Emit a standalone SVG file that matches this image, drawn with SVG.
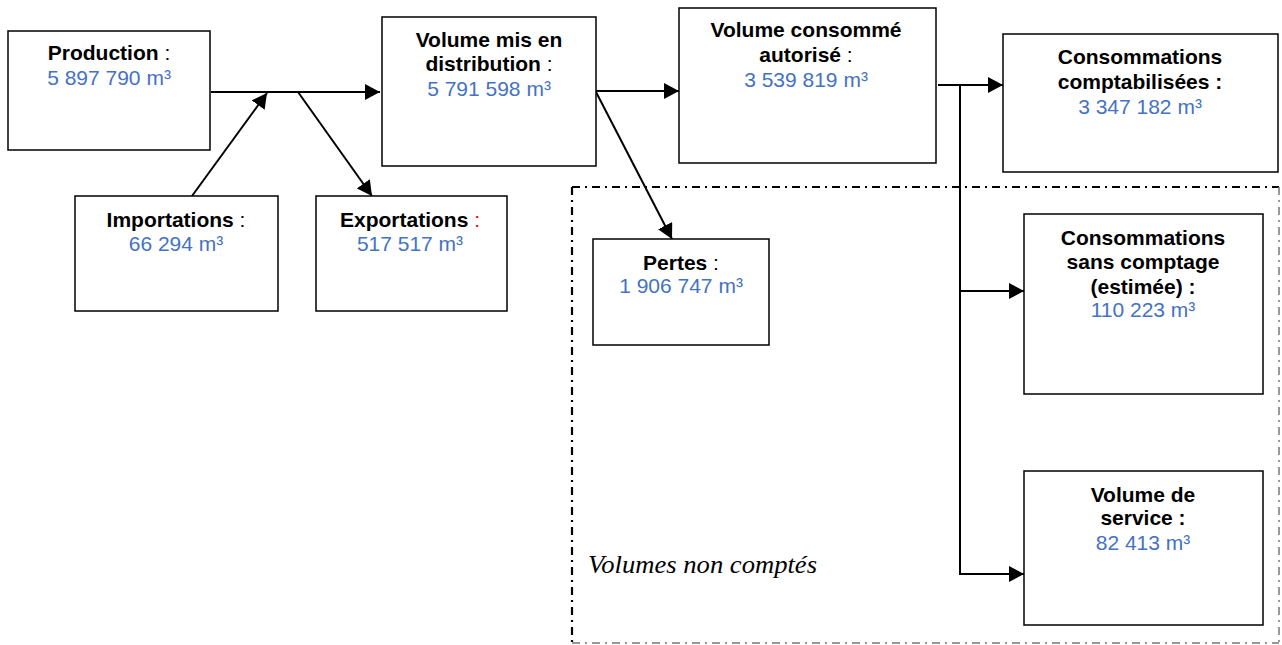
<svg xmlns="http://www.w3.org/2000/svg" width="1282" height="645" viewBox="0 0 1282 645">
<style>
.box{fill:#fff;stroke:#000;stroke-width:1.5}
.t{font-family:"Liberation Sans",Arial,sans-serif;font-size:21px;text-anchor:middle;fill:#000}
.b{font-weight:bold}
.v{fill:#4472C4}
.red{fill:#FF0000}
.c{stroke:#000;stroke-width:2;fill:none;marker-end:url(#ah)}
.cl{stroke:#000;stroke-width:2;fill:none}
.d{stroke:#000;stroke-width:2.2;fill:none;stroke-dasharray:8 5 2 5}
.d2{stroke:#777;stroke-width:1.5;fill:none;stroke-dasharray:8 5 2 5}
.it{font-family:"Liberation Serif","Times New Roman",serif;font-style:italic;font-size:25px;fill:#000}
</style>
<defs>
<marker id="ah" markerUnits="userSpaceOnUse" markerWidth="16" markerHeight="16" refX="15" refY="8" orient="auto">
<path d="M0,0 L15,8 L0,16 z" fill="#000"/>
</marker>
</defs>
<rect width="1282" height="645" fill="#fff"/>
<g id="zone-non-comptes">
<line class="d" x1="572" y1="187" x2="1279" y2="187"/>
<line class="d" x1="572" y1="187" x2="572" y2="645"/>
<line class="d2" x1="1279" y1="187" x2="1279" y2="643"/>
<line class="d2" x1="572" y1="643" x2="1279" y2="643"/>
<text class="it" x="588" y="573" textLength="229" lengthAdjust="spacingAndGlyphs">Volumes non comptés</text>
</g>
<g id="connectors">
<line class="c" x1="211" y1="92" x2="380" y2="92"/>
<line class="c" x1="192" y1="196" x2="267" y2="93"/>
<line class="c" x1="298" y1="92" x2="372" y2="196"/>
<line class="c" x1="596" y1="91" x2="679" y2="91"/>
<line class="c" x1="596" y1="92" x2="672" y2="239"/>
<line class="c" x1="938" y1="85" x2="1003" y2="85"/>
<line class="cl" x1="960" y1="85" x2="960" y2="575"/>
<line class="c" x1="959" y1="291" x2="1024" y2="291"/>
<line class="c" x1="959" y1="574" x2="1024" y2="574"/>
</g>
<g id="production">
<rect class="box" x="8" y="31" width="202" height="119"/>
<text class="t" x="109" y="60"><tspan class="b">Production</tspan> :</text>
<text class="t v" x="109" y="85">5 897 790 m³</text>
</g>
<g id="importations">
<rect class="box" x="75" y="196" width="203" height="115"/>
<text class="t" x="176" y="227"><tspan class="b">Importations</tspan> :</text>
<text class="t v" x="176" y="251">66 294 m³</text>
</g>
<g id="exportations">
<rect class="box" x="316" y="196" width="191" height="115"/>
<text class="t" x="410" y="227"><tspan class="b">Exportations</tspan><tspan class="red"> :</tspan></text>
<text class="t v" x="410" y="251">517 517 m³</text>
</g>
<g id="volume-distribution">
<rect class="box" x="382" y="17" width="214" height="149"/>
<text class="t b" x="489" y="47">Volume mis en</text>
<text class="t" x="489" y="71"><tspan class="b">distribution</tspan> :</text>
<text class="t v" x="489" y="96">5 791 598 m³</text>
</g>
<g id="volume-consomme">
<rect class="box" x="679" y="8" width="257" height="155"/>
<text class="t b" x="806" y="37">Volume consommé</text>
<text class="t" x="806" y="62"><tspan class="b">autorisé</tspan> :</text>
<text class="t v" x="806" y="87">3 539 819 m³</text>
</g>
<g id="pertes">
<rect class="box" x="593" y="239" width="176" height="106"/>
<text class="t" x="681" y="270"><tspan class="b">Pertes</tspan> :</text>
<text class="t v" x="681" y="293">1 906 747 m³</text>
</g>
<g id="consommations-comptabilisees">
<rect class="box" x="1003" y="34" width="275" height="138"/>
<text class="t b" x="1140" y="64">Consommations</text>
<text class="t b" x="1140" y="89">comptabilisées :</text>
<text class="t v" x="1140" y="114">3 347 182 m³</text>
</g>
<g id="consommations-sans-comptage">
<rect class="box" x="1024" y="214" width="239" height="180"/>
<text class="t b" x="1143" y="245">Consommations</text>
<text class="t b" x="1143" y="269">sans comptage</text>
<text class="t b" x="1143" y="294">(estimée) :</text>
<text class="t v" x="1143" y="317">110 223 m³</text>
</g>
<g id="volume-service">
<rect class="box" x="1024" y="471" width="239" height="154"/>
<text class="t b" x="1143" y="502">Volume de</text>
<text class="t b" x="1143" y="525">service :</text>
<text class="t v" x="1143" y="550">82 413 m³</text>
</g>
</svg>
